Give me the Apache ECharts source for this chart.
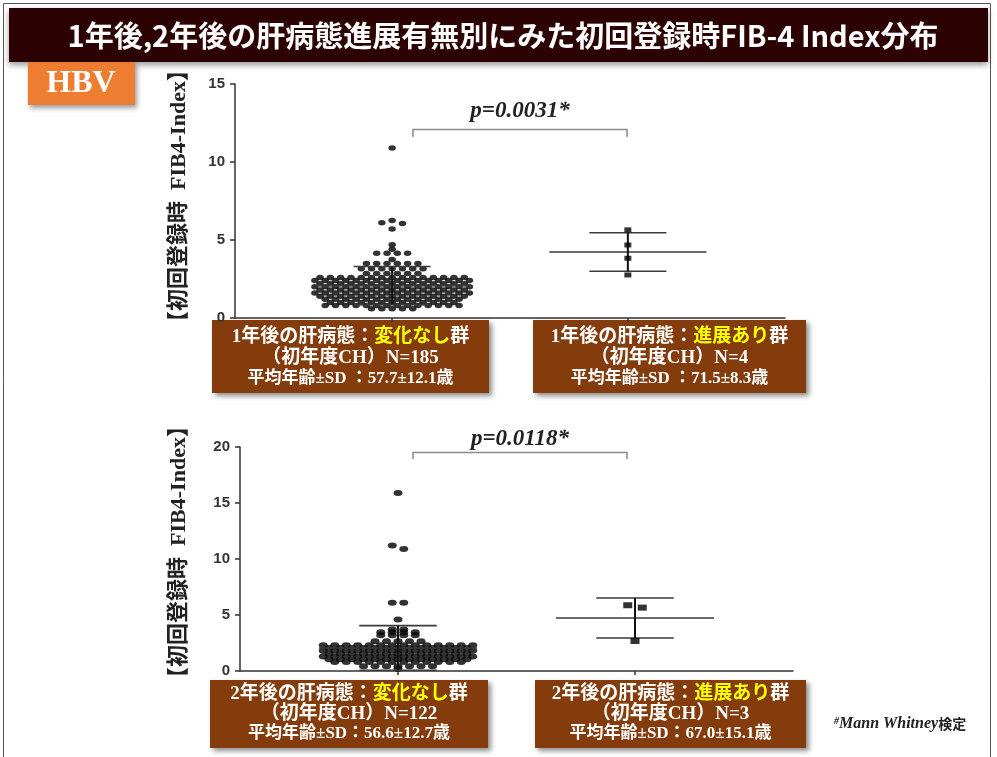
<!DOCTYPE html>
<html>
<head>
<meta charset="utf-8">
<script src="https://cdn.jsdelivr.net/npm/echarts@6/dist/echarts.min.js"></script>
<style>
  html, body { margin: 0; padding: 0; background: #ffffff; }
  #chart { width: 997px; height: 757px; }
</style>
</head>
<body>
<div id="chart"></div>
<script>
// FIB-4 index at first registration (HBV, chronic hepatitis in first year)
// Year 1 follow-up: liver status unchanged
const year1Stable = [
  10.9,
  6.25, 6.1, 6.05,
  5.7, 4.7, 4.4,
  4.15, 4.15, 4.15, 4.15,
  3.75,
  3.5, 3.5, 3.5, 3.5, 3.5, 3.5,
  3.15, 3.15, 3.15, 3.15, 3.15, 3.15, 3.15,
  2.85, 2.85, 2.85, 2.85, 2.85, 2.85,
  2.6, 2.6, 2.6, 2.6, 2.6, 2.6, 2.6, 2.6, 2.6, 2.6, 2.6, 2.6, 2.6, 2.6, 2.6,
  2.4, 2.4, 2.4, 2.4, 2.4, 2.4, 2.4, 2.4, 2.4, 2.4, 2.4, 2.4, 2.4, 2.4, 2.4, 2.4,
  2.2, 2.2, 2.2, 2.2, 2.2, 2.2, 2.2, 2.2, 2.2, 2.2, 2.2, 2.2, 2.2, 2.2, 2.2,
  2.0, 2.0, 2.0, 2.0, 2.0, 2.0, 2.0, 2.0, 2.0, 2.0, 2.0, 2.0, 2.0, 2.0, 2.0, 2.0,
  1.8, 1.8, 1.8, 1.8, 1.8, 1.8, 1.8, 1.8, 1.8, 1.8, 1.8, 1.8, 1.8, 1.8, 1.8,
  1.6, 1.6, 1.6, 1.6, 1.6, 1.6, 1.6, 1.6, 1.6, 1.6, 1.6, 1.6, 1.6, 1.6, 1.6, 1.6,
  1.4, 1.4, 1.4, 1.4, 1.4, 1.4, 1.4, 1.4, 1.4, 1.4, 1.4, 1.4, 1.4, 1.4, 1.4,
  1.2, 1.2, 1.2, 1.2, 1.2, 1.2, 1.2, 1.2, 1.2, 1.2, 1.2, 1.2, 1.2, 1.2,
  1.0, 1.0, 1.0, 1.0, 1.0, 1.0, 1.0, 1.0, 1.0, 1.0, 1.0, 1.0, 1.0,
  0.8, 0.8, 0.8, 0.8, 0.8, 0.8, 0.8, 0.8, 0.8, 0.8, 0.8, 0.8, 0.8, 0.8,
  0.6, 0.6, 0.6, 0.6, 0.6
];
// Year 1 follow-up: liver status progressed
const year1Progressed = [5.65, 4.68, 3.83, 2.76];

// Year 2 follow-up: liver status unchanged
const year2Stable = [
  15.9, 11.2, 10.9,
  6.1, 6.1,
  4.6,
  3.7, 3.7,
  3.45, 3.45, 3.45, 3.45,
  3.2, 3.2, 3.2, 3.2,
  2.65, 2.65, 2.65, 2.65, 2.65,
  2.3, 2.3, 2.3, 2.3, 2.3, 2.3, 2.3, 2.3, 2.3, 2.3, 2.3, 2.3, 2.3, 2.3,
  2.05, 2.05, 2.05, 2.05, 2.05, 2.05, 2.05, 2.05, 2.05, 2.05, 2.05, 2.05, 2.05,
  1.8, 1.8, 1.8, 1.8, 1.8, 1.8, 1.8, 1.8, 1.8, 1.8, 1.8, 1.8, 1.8, 1.8,
  1.55, 1.55, 1.55, 1.55, 1.55, 1.55, 1.55, 1.55, 1.55, 1.55, 1.55, 1.55, 1.55,
  1.3, 1.3, 1.3, 1.3, 1.3, 1.3, 1.3, 1.3, 1.3, 1.3, 1.3, 1.3, 1.3, 1.3,
  1.05, 1.05, 1.05, 1.05, 1.05, 1.05, 1.05, 1.05, 1.05, 1.05, 1.05, 1.05, 1.05,
  0.8, 0.8, 0.8, 0.8, 0.8, 0.8, 0.8, 0.8, 0.8, 0.8, 0.8, 0.8,
  0.42, 0.42, 0.42, 0.42, 0.42, 0.42, 0.42,
  0.2
];
// Year 2 follow-up: liver status progressed
const year2Progressed = [5.87, 5.66, 2.68];

// Labels
const periodLabels = ['1年後', '2年後'];
const statusLabels = ['変化なし', '進展あり'];
const ageLabels = [
  ['平均年齢±SD ：57.7±12.1歳', '平均年齢±SD ：71.5±8.3歳'],
  ['平均年齢±SD：56.6±12.7歳', '平均年齢±SD：67.0±15.1歳']
];
const pValues = ['0.0031', '0.0118'];
const yAxisTitle = '【初回登録時  FIB4-Index】';
const yTickMax = [15, 20];
const yTickStep = 5;

// ---------- layout ----------
const GRIDS = [
  { left: 235, top: 84, width: 550, height: 234 },
  { left: 240, top: 447, width: 553, height: 224 }
];
const X_MAX = 7;
const CENTERS = [2, 5];
const MEAN_HALF = 1.0;   // half-width of the mean bar, x units
const SD_HALF = 0.49;    // half-width of the SD caps, x units
const MERGE_PX = 3.6;    // near-equal singletons share a row below this gap

const SERIF_JP = '"Liberation Serif", "Noto Sans CJK JP", serif';

// Column scatter: equal values sit in one centred row, filled centre-out
function swarm(values, center, dxPx, gi) {
  const g = GRIDS[gi];
  const pxPerX = g.width / X_MAX;
  const pxPerY = g.height / yTickMax[gi];
  const counts = {};
  values.forEach(v => { counts[v] = (counts[v] || 0) + 1; });
  const sorted = values.slice().sort((a, b) => b - a);
  const rows = [];
  sorted.forEach(v => {
    const row = rows[rows.length - 1];
    const same = row && row[row.length - 1] === v;
    const near = row && counts[v] === 1 && row.length < 3 &&
      (row[0] - v) * pxPerY < MERGE_PX;
    if (same || near) row.push(v); else rows.push([v]);
  });
  const pts = [];
  rows.forEach(row => {
    const n = row.length;
    const slots = [];
    for (let i = 0; i < n; i++) slots.push(i - (n - 1) / 2);
    slots.sort((a, b) => Math.abs(a) - Math.abs(b) || a - b);
    row.forEach((v, i) => pts.push([center + slots[i] * dxPx / pxPerX, v]));
  });
  return pts;
}

function meanSd(values) {
  const n = values.length;
  const m = values.reduce((s, v) => s + v, 0) / n;
  const sd = Math.sqrt(values.reduce((s, v) => s + (v - m) * (v - m), 0) / (n - 1));
  return [m, sd];
}

function errorBarSeries(gi, groups) {
  return {
    type: 'custom',
    xAxisIndex: gi, yAxisIndex: gi,
    z: 5,
    silent: true,
    data: groups.map((vals, k) => [CENTERS[k]].concat(meanSd(vals))),
    renderItem(params, api) {
      const cx = api.value(0), m = api.value(1), s = api.value(2);
      const lo = Math.max(0, m - s), hi = m + s;
      const a = api.coord([cx - MEAN_HALF, m]), b = api.coord([cx + MEAN_HALF, m]);
      const c = api.coord([cx - SD_HALF, hi]), d = api.coord([cx + SD_HALF, hi]);
      const e = api.coord([cx - SD_HALF, lo]), f = api.coord([cx + SD_HALF, lo]);
      const t = api.coord([cx, hi]), u = api.coord([cx, lo]);
      const ls = { stroke: '#3a3a3a', lineWidth: 1.6 };
      return {
        type: 'group',
        children: [
          { type: 'line', shape: { x1: a[0], y1: a[1], x2: b[0], y2: b[1] }, style: ls },
          { type: 'line', shape: { x1: c[0], y1: c[1], x2: d[0], y2: d[1] }, style: ls },
          { type: 'line', shape: { x1: e[0], y1: e[1], x2: f[0], y2: f[1] }, style: ls },
          { type: 'line', shape: { x1: t[0], y1: t[1], x2: u[0], y2: u[1] }, style: { stroke: '#111', lineWidth: 2 } }
        ]
      };
    }
  };
}

const xAxes = GRIDS.map((g, gi) => ({
  type: 'value', gridIndex: gi, min: 0, max: X_MAX,
  axisLine: { show: true, onZero: false, lineStyle: { color: '#333', width: 1.5 } },
  axisTick: { show: true, customValues: CENTERS, length: 4, lineStyle: { color: '#333', width: 1.5 } },
  axisLabel: { show: false },
  splitLine: { show: false }
}));

const yAxes = GRIDS.map((g, gi) => ({
  type: 'value', gridIndex: gi, min: 0, max: yTickMax[gi], interval: yTickStep,
  axisLine: { show: true, lineStyle: { color: '#333', width: 1.5 } },
  axisTick: { show: true, length: 5, lineStyle: { color: '#333', width: 1.5 } },
  axisLabel: { fontFamily: '"Liberation Sans", Arial, sans-serif', fontWeight: 'bold', fontSize: 15, color: '#333', margin: 10 },
  splitLine: { show: false }
}));

const series = [
  { type: 'scatter', xAxisIndex: 0, yAxisIndex: 0, symbol: 'circle', symbolSize: [7.5, 5.5],
    itemStyle: { color: '#000' }, data: swarm(year1Stable, CENTERS[0], 10.3, 0), z: 3 },
  { type: 'scatter', xAxisIndex: 0, yAxisIndex: 0, symbol: 'rect', symbolSize: [7, 5],
    itemStyle: { color: '#000' }, data: swarm(year1Progressed, CENTERS[1], 12, 0), z: 6 },
  errorBarSeries(0, [year1Stable, year1Progressed]),
  { type: 'scatter', xAxisIndex: 1, yAxisIndex: 1, symbol: 'circle', symbolSize: [9, 6],
    itemStyle: { color: '#000' }, data: swarm(year2Stable, CENTERS[0], 11.5, 1), z: 3 },
  { type: 'scatter', xAxisIndex: 1, yAxisIndex: 1, symbol: 'rect', symbolSize: [9, 6],
    itemStyle: { color: '#000' }, data: swarm(year2Progressed, CENTERS[1], 14.5, 1), z: 6 },
  errorBarSeries(1, [year2Stable, year2Progressed])
];

// ---------- annotation graphics ----------
const BOX_RICH = {
  w: { fill: '#ffffff', fontFamily: SERIF_JP, fontWeight: 'bold', fontSize: 19 },
  y: { fill: '#ffff00', fontFamily: SERIF_JP, fontWeight: 'bold', fontSize: 19 },
  s: { fill: '#ffffff', fontFamily: SERIF_JP, fontWeight: 'bold', fontSize: 17 }
};

function groupBox(x, y, w, h, lineYs, period, status, n, age) {
  const cx = x + w / 2;
  const lines = [
    '{w|' + period + 'の肝病態：}{y|' + status + '}{w|群}',
    '{w|（初年度CH）N=' + n + '}',
    '{s|' + age + '}'
  ];
  return {
    type: 'group',
    children: [
      { type: 'rect', shape: { x: x, y: y, width: w, height: h },
        style: { fill: '#843c0c', shadowBlur: 5, shadowOffsetX: 3, shadowOffsetY: 3, shadowColor: 'rgba(0,0,0,0.45)' } }
    ].concat(lines.map((t, i) => ({
      type: 'text', x: cx, y: lineYs[i],
      style: { text: t, rich: BOX_RICH, align: 'center', verticalAlign: 'middle' }
    })))
  };
}

function bracket(x1, x2, yTop, yEnd, label, labelY) {
  return [
    { type: 'polyline', shape: { points: [[x1, yEnd], [x1, yTop], [x2, yTop], [x2, yEnd]] },
      style: { stroke: '#8a8a8a', lineWidth: 1.5, fill: null } },
    { type: 'text', x: (x1 + x2) / 2, y: labelY,
      style: { text: 'p=' + label + '*', fill: '#222', align: 'center', verticalAlign: 'middle',
               fontFamily: '"Liberation Serif", serif', fontStyle: 'italic', fontWeight: 'bold', fontSize: 23 } }
  ];
}

// vertical axis title, reading bottom to top
function axisTitle(x, y) {
  return {
    type: 'text', x: x, y: y, rotation: Math.PI / 2,
    style: { text: yAxisTitle, fill: '#222', align: 'center', verticalAlign: 'middle',
             fontFamily: SERIF_JP, fontWeight: 'bold', fontSize: 22 }
  };
}

const graphics = [
  // slide frame
  { type: 'rect', shape: { x: 3.5, y: 3.5, width: 987, height: 760 },
    style: { fill: null, stroke: '#555', lineWidth: 1 }, z: 0 },
  // title bar
  { type: 'rect', shape: { x: 9, y: 8, width: 979, height: 54 },
    style: { fill: '#2c0202', shadowBlur: 6, shadowOffsetY: 3, shadowColor: 'rgba(0,0,0,0.4)' } },
  { type: 'text', x: 503, y: 36,
    style: { text: '1年後,2年後の肝病態進展有無別にみた初回登録時FIB-4 Index分布', fill: '#ffffff',
             align: 'center', verticalAlign: 'middle',
             fontFamily: '"Noto Sans CJK JP", sans-serif', fontWeight: 'bold', fontSize: 29 } },
  // HBV badge
  { type: 'rect', shape: { x: 28, y: 62, width: 107, height: 43 },
    style: { fill: '#ed7d31', shadowBlur: 5, shadowOffsetX: 2, shadowOffsetY: 3, shadowColor: 'rgba(0,0,0,0.4)' } },
  { type: 'text', x: 81, y: 84,
    style: { text: 'HBV', fill: '#ffffff', align: 'center', verticalAlign: 'middle',
             fontFamily: '"Liberation Serif", serif', fontWeight: 'bold', fontSize: 32 } },
  // axis titles
  axisTitle(179, 196),
  axisTitle(179, 552),
  // group boxes, year 1
  groupBox(212, 320, 277, 73, [337, 358, 379], periodLabels[0], statusLabels[0], year1Stable.length, ageLabels[0][0]),
  groupBox(533, 320, 273, 73, [337, 358, 379], periodLabels[0], statusLabels[1], year1Progressed.length, ageLabels[0][1]),
  // group boxes, year 2
  groupBox(210, 680, 278, 68, [694, 714, 734], periodLabels[1], statusLabels[0], year2Stable.length, ageLabels[1][0]),
  groupBox(535, 680, 271, 68, [694, 714, 734], periodLabels[1], statusLabels[1], year2Progressed.length, ageLabels[1][1]),
  // test note
  { type: 'text', x: 834, y: 724,
    style: { text: '{h|#}{i|Mann Whitney}{j|検定}', verticalAlign: 'middle',
             rich: {
               h: { fill: '#222', fontFamily: '"Liberation Serif", serif', fontStyle: 'italic', fontWeight: 'bold', fontSize: 10, verticalAlign: 'top' },
               i: { fill: '#222', fontFamily: '"Liberation Serif", serif', fontStyle: 'italic', fontWeight: 'bold', fontSize: 16 },
               j: { fill: '#222', fontFamily: '"Noto Sans CJK JP", sans-serif', fontWeight: 'bold', fontSize: 14 }
             } } }
].concat(bracket(413, 627, 129.5, 137, pValues[0], 111))
 .concat(bracket(413, 627, 452.5, 459, pValues[1], 439));

const chart = echarts.init(document.getElementById('chart'), null, { renderer: 'canvas' });
chart.setOption({
  backgroundColor: '#ffffff',
  animation: false,
  grid: GRIDS.map(g => ({ left: g.left, top: g.top, width: g.width, height: g.height, containLabel: false })),
  xAxis: xAxes,
  yAxis: yAxes,
  series: series,
  graphic: { elements: graphics }
});
</script>
</body>
</html>
